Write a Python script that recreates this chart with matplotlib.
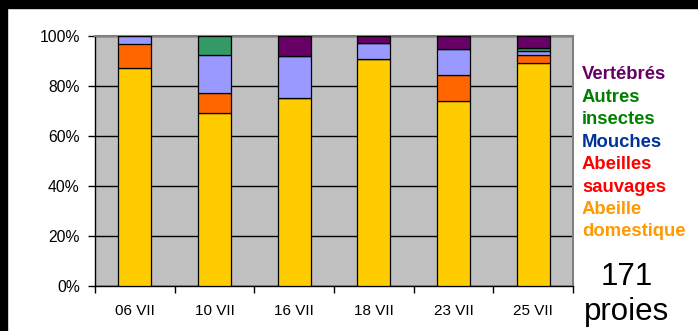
import matplotlib
matplotlib.use('Agg')
import matplotlib.pyplot as plt
import numpy as np
from matplotlib.patches import Rectangle

plt.rcParams['font.family'] = ['Liberation Sans', 'DejaVu Sans']

dates = ['06 VII', '10 VII', '16 VII', '18 VII', '23 VII', '25 VII']
# share of prey per day (%)
abeille_dom = [87.1, 69.2, 75.0, 90.6, 73.7, 88.9]
abeilles_sauv = [9.7, 7.7, 0.0, 0.0, 10.5, 3.2]
mouches = [3.2, 15.4, 16.7, 6.3, 10.5, 1.6]
autres_ins = [0.0, 7.7, 0.0, 0.0, 0.0, 1.3]
vertebres = [0.0, 0.0, 8.3, 3.1, 5.3, 5.0]

series = [abeille_dom, abeilles_sauv, mouches, autres_ins, vertebres]
bar_colors = ['#FFCC00', '#FF6600', '#9999FF', '#339966', '#660066']

legend_lines = [('Vertébrés', '#660066'), ('Autres', '#008000'), ('insectes', '#008000'),
                ('Mouches', '#003399'), ('Abeilles', '#FF0000'), ('sauvages', '#FF0000'),
                ('Abeille', '#FF9900'), ('domestique', '#FF9900')]

fig = plt.figure(figsize=(6.98, 3.31), dpi=100, facecolor='white')
ax = fig.add_axes([95/698, 45.5/331, 478/698, 250/331])
ax.set_facecolor('#C0C0C0')

x = np.arange(len(dates))
bottom = np.zeros(len(dates))
for vals, c in zip(series, bar_colors):
    vals = np.array(vals)
    ax.bar(x, vals, 0.414, bottom=bottom, color=c, edgecolor='black', linewidth=0.9, zorder=3)
    bottom += vals

ax.set_xlim(-0.5, len(dates) - 0.5)
ax.set_ylim(0, 100)
ax.set_yticks([0, 20, 40, 60, 80, 100])
ax.set_yticklabels(['0%', '20%', '40%', '60%', '80%', '100%'])
ax.yaxis.grid(True, color='black', linewidth=1.0, zorder=1)
ax.set_axisbelow(True)

ax.set_xticks(x)
ax.set_xticklabels(dates)
ax.set_xticks(np.arange(len(dates) + 1) - 0.5, minor=True)
ax.tick_params(axis='x', which='major', length=0, pad=13, labelsize=11)
ax.tick_params(axis='x', which='minor', length=5, width=1)
ax.tick_params(axis='y', length=5, width=1, pad=6, labelsize=11.3)

for s in ['top', 'right']:
    ax.spines[s].set_color('#808080')
    ax.spines[s].set_linewidth(1.5)
for s in ['left', 'bottom']:
    ax.spines[s].set_color('black')
    ax.spines[s].set_linewidth(1.0)

# coloured legend text on the right
y0 = 79.5
for i, (txt, col) in enumerate(legend_lines):
    fig.text(582/698, 1 - (y0 + i * 22.4) / 331, txt, color=col, fontsize=13.3,
             fontweight='bold', va='baseline', ha='left')

fig.text(627/698, 1 - 285/331, '171', fontsize=22.5, va='baseline', ha='center')
fig.text(627/698, 1 - 320/331, 'proies', fontsize=22.5, va='baseline', ha='center')

# black frame remains on top and left edges
fig.patches.append(Rectangle((0, 1 - 8/331), 1, 8/331, transform=fig.transFigure,
                             color='black', zorder=10))
fig.patches.append(Rectangle((0, 0), 7/698, 1, transform=fig.transFigure,
                             color='black', zorder=10))

fig.savefig('out.png', dpi=100, facecolor='white')
